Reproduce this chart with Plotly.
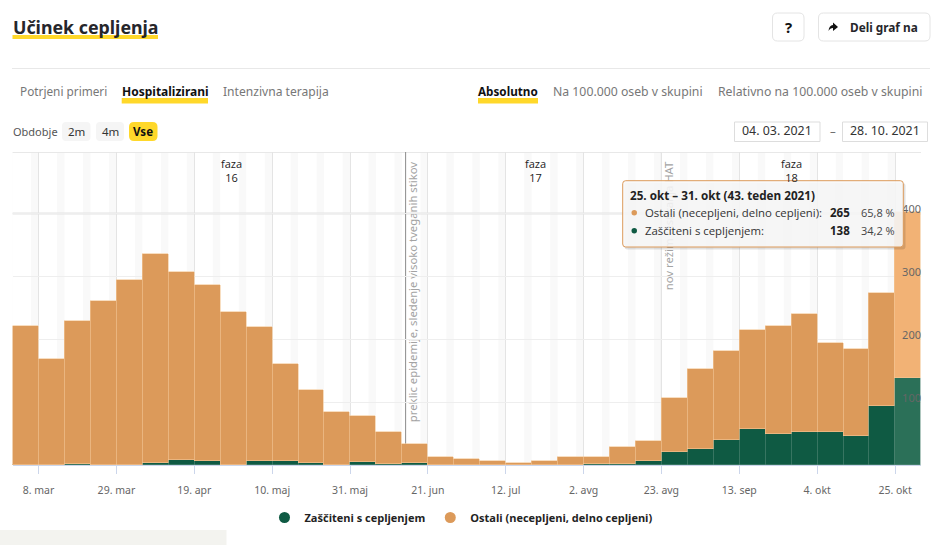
import plotly.graph_objects as go
import pandas as pd

W = 938
H = 545

# weekly data
weeks = pd.date_range("2021-03-01", periods=35, freq="7D")
total = [221, 168, 229, 261, 294, 335, 307, 286, 243, 219, 160, 119, 85, 78, 53, 33, 13, 10,
         7, 3, 6, 13, 13, 29, 38, 106, 152, 181, 215, 221, 240, 194, 185, 273, 403]
zasciteni = [0, 0, 1, 0, 0, 3, 8, 6, 0, 6, 6, 3, 0, 5, 2, 3, 0, 0,
             0, 0, 0, 0, 1, 1, 6, 21, 26, 39, 58, 50, 52, 52, 46, 94, 138]
ostali = [t - z for t, z in zip(total, zasciteni)]

tick_dates = ["2021-03-08", "2021-03-29", "2021-04-19", "2021-05-10", "2021-05-31", "2021-06-21",
              "2021-07-12", "2021-08-02", "2021-08-23", "2021-09-13", "2021-10-04", "2021-10-25"]
tick_labels = ["8. mar", "29. mar", "19. apr", "10. maj", "31. maj", "21. jun",
               "12. jul", "2. avg", "23. avg", "13. sep", "4. okt", "25. okt"]

phase_dates = ["2021-04-29", "2021-07-20", "2021-09-27"]
phase_labels = ["faza<br>16", "faza<br>17", "faza<br>18"]

ORANGE = "#dc9a5a"
ORANGE_HI = "#f2b275"
GREEN = "#0f5a43"
GREEN_HI = "#2b7058"
YELLOW = "#ffd82a"
DARK = "#26262b"
GREY = "#777777"
FONT = "Noto Sans"
TIP_FONT = "Open Sans"
WEEK_MS = 7 * 24 * 3600 * 1000


# page pixels to paper fractions
def px(x):
    return x / W


def py(y):
    return 1 - y / H


def rect(x0, y0, x1, y1, fill, line=None, layer="above"):
    return dict(type="rect", xref="paper", yref="paper", x0=px(x0), x1=px(x1), y0=py(y0), y1=py(y1),
                fillcolor=fill, line=dict(color=line or fill, width=1 if line else 0), layer=layer)


def rounded(x0, y0, x1, y1, r, fill, line=None):
    a, b, c, d = px(x0), px(x1), py(y0), py(y1)
    rx, ry = r / W, r / H
    path = (f"M{a + rx},{c} L{b - rx},{c} Q{b},{c} {b},{c - ry} L{b},{d + ry} Q{b},{d} {b - rx},{d} "
            f"L{a + rx},{d} Q{a},{d} {a},{d + ry} L{a},{c - ry} Q{a},{c} {a + rx},{c} Z")
    return dict(type="path", xref="paper", yref="paper", path=path, fillcolor=fill,
                line=dict(color=line or fill, width=1 if line else 0), layer="above")


def text(x, y, s, size=12, color=GREY, anchor="left", bold=False, family=FONT):
    return dict(xref="paper", yref="paper", x=px(x), y=py(y), text=s, showarrow=False, xanchor=anchor,
                yanchor="middle", font=dict(size=size, color=color, family=family, weight=700 if bold else 400),
                borderpad=0, borderwidth=0)


fig = go.Figure()

ost_colors = [ORANGE] * 34 + [ORANGE_HI]
zas_colors = [GREEN] * 34 + [GREEN_HI]
fig.add_trace(go.Bar(x=weeks, y=zasciteni, width=WEEK_MS, offset=0, marker_color=zas_colors,
                     marker_line=dict(color="#5f8f7f", width=0.5), showlegend=False))
fig.add_trace(go.Bar(x=weeks, y=ostali, width=WEEK_MS, offset=0, marker_color=ost_colors,
                     marker_line=dict(color="#f3c898", width=0.6), showlegend=False))
# round legend markers
fig.add_trace(go.Scatter(x=[None], y=[None], mode="markers", name="Zaščiteni s cepljenjem",
                         marker=dict(color=GREEN, size=11)))
fig.add_trace(go.Scatter(x=[None], y=[None], mode="markers", name="Ostali (necepljeni, delno cepljeni)",
                         marker=dict(color=ORANGE, size=11)))

shapes = []

# weekend stripes
for w in weeks:
    shapes.append(dict(type="rect", xref="x", yref="paper", x0=w - pd.Timedelta(days=2), x1=w,
                       y0=py(465), y1=py(152), fillcolor="#f9f9f9", line=dict(width=0), layer="below"))

# top border and the heavier 400 line
shapes.append(rect(12.6, 152, 921, 153, "#e8e8e8", layer="below"))
shapes.append(dict(type="line", xref="paper", yref="y", x0=px(12.6), x1=px(921), y0=400, y1=400,
                   line=dict(color="#e4e4e4", width=2), layer="below"))

# event lines with rotated text
shapes.append(dict(type="line", xref="x", yref="paper", x0="2021-06-15", x1="2021-06-15", y0=py(465), y1=py(152),
                   line=dict(color="#8c8c8c", width=1), layer="below"))
shapes.append(dict(type="rect", xref="x", yref="paper", x0="2021-06-15", x1="2021-06-19", y0=py(423), y1=py(161),
                   line=dict(width=0), fillcolor="rgba(0,0,0,0)", layer="below",
                   label=dict(text="preklic epidemije, sledenje visoko tveganih stikov", textangle=-90,
                              textposition="middle center", font=dict(size=11.3, color="#a3a3a3", family=FONT))))
shapes.append(dict(type="line", xref="x", yref="paper", x0="2021-08-23", x1="2021-08-23", y0=py(465), y1=py(152),
                   line=dict(color="#8c8c8c", width=1), layer="below"))
shapes.append(dict(type="rect", xref="x", yref="paper", x0="2021-08-23", x1="2021-08-27", y0=py(292), y1=py(160),
                   line=dict(width=0), fillcolor="rgba(0,0,0,0)", layer="below",
                   label=dict(text="nov režim testiranja HAT", textangle=-90,
                              textposition="middle center", font=dict(size=11.3, color="#a3a3a3", family=FONT))))

# header
shapes.append(rect(12.5, 35, 158, 39, YELLOW))
shapes.append(rect(12, 68, 930, 69, "#e8e8e8"))
shapes.append(rounded(772.5, 13, 804, 41, 5, "#ffffff", "#e4e4e4"))
shapes.append(rounded(818.5, 13, 930, 41, 5, "#ffffff", "#e4e4e4"))
# share arrow
ax, ay = 833, 27
shapes.append(dict(type="path", xref="paper", yref="paper", fillcolor="#111111", line=dict(width=0), layer="above",
                   path=(f"M{px(ax - 4.5)},{py(ay + 4)} Q{px(ax - 4)},{py(ay - 1.5)} {px(ax)},{py(ay - 2)} "
                         f"L{px(ax)},{py(ay - 4.5)} L{px(ax + 5)},{py(ay)} L{px(ax)},{py(ay + 4)} "
                         f"L{px(ax)},{py(ay + 1)} Q{px(ax - 3)},{py(ay + 1)} {px(ax - 4.5)},{py(ay + 4)} Z")))
# tab underlines
shapes.append(rect(121.7, 98, 208, 103.5, YELLOW))
shapes.append(rect(478, 98, 538, 103.5, YELLOW))
# period buttons
shapes.append(rounded(62, 122, 90.5, 141, 4, "#f5f5f5"))
shapes.append(rounded(96, 122, 124, 141, 4, "#f5f5f5"))
shapes.append(rounded(129, 122, 157.5, 141, 5, YELLOW))
# date inputs
shapes.append(rect(734.5, 122, 820, 141.5, "#ffffff", "#dddddd"))
shapes.append(rect(842.5, 122, 927.5, 141.5, "#ffffff", "#dddddd"))
# corner block bottom left
shapes.append(rect(0, 530, 226.5, 545, "#f3f3ef"))

# tooltip
shapes.append(rounded(624.5, 183, 905.5, 249.5, 3, "rgba(0,0,0,0.12)"))
shapes.append(rounded(622.7, 180.7, 903.3, 247, 3, "rgba(248,248,248,0.88)", ORANGE))
shapes.append(dict(type="circle", xref="paper", yref="paper", x0=px(631.5), x1=px(637), y0=py(210), y1=py(215.5),
                   fillcolor=ORANGE, line=dict(width=0), layer="above"))
shapes.append(dict(type="circle", xref="paper", yref="paper", x0=px(631.5), x1=px(637), y0=py(228), y1=py(233.5),
                   fillcolor=GREEN, line=dict(width=0), layer="above"))

annotations = [
    text(12.5, 27, "Učinek cepljenja", size=17.8, color=DARK, bold=True),
    text(788, 27, "?", size=15, color="#111111", anchor="center", bold=True),
    text(883.7, 27, "Deli graf na", size=11.8, color=DARK, anchor="center", bold=True),
    text(19.7, 91, "Potrjeni primeri", size=11.8),
    text(121.7, 91, "Hospitalizirani", size=12, color="#111111", bold=True),
    text(222.7, 91, "Intenzivna terapija", size=12.1),
    text(478, 91, "Absolutno", size=11.7, color="#111111", bold=True),
    text(553, 91, "Na 100.000 oseb v skupini", size=12.25),
    text(718, 91, "Relativno na 100.000 oseb v skupini", size=12.25),
    text(12.7, 131, "Obdobje", size=11, color="#555555"),
    text(76, 131, "2m", size=11.5, color="#333333", anchor="center"),
    text(110, 131, "4m", size=11.5, color="#333333", anchor="center"),
    text(143, 131, "Vse", size=11.5, color="#111111", anchor="center", bold=True),
    text(777, 130.5, "04. 03. 2021", size=12.4, color="#333333", anchor="center"),
    text(885, 130.5, "28. 10. 2021", size=12.4, color="#333333", anchor="center"),
    text(833, 130.5, "–", size=11.5, color="#666666", anchor="center"),
    # tooltip text
    text(629.7, 195, "25. okt – 31. okt (43. teden 2021)", size=11.7, color="#222222", bold=True, family=TIP_FONT),
    text(645, 212.7, "Ostali (necepljeni, delno cepljeni):", size=11.4, color="#333333", family=TIP_FONT),
    text(849.7, 212.7, "265", size=11.5, color="#222222", anchor="right", bold=True, family=TIP_FONT),
    text(895, 212.7, "65,8 %", size=11, color="#444444", anchor="right", family=TIP_FONT),
    text(645, 230.7, "Zaščiteni s cepljenjem:", size=11.4, color="#333333", family=TIP_FONT),
    text(849.7, 230.7, "138", size=11.5, color="#222222", anchor="right", bold=True, family=TIP_FONT),
    text(895, 230.7, "34,2 %", size=11, color="#444444", anchor="right", family=TIP_FONT),
]
# phase labels
for d, s in zip(phase_dates, phase_labels):
    annotations.append(dict(xref="x", yref="paper", x=d, y=py(170), text=s, showarrow=False, xanchor="center",
                            yanchor="middle", font=dict(size=11, color="#222222", family=TIP_FONT)))

fig.update_layout(
    width=W,
    height=H,
    margin=dict(l=0, r=0, t=0, b=0),
    paper_bgcolor="#ffffff",
    plot_bgcolor="#ffffff",
    barmode="stack",
    bargap=0,
    shapes=shapes,
    annotations=annotations,
    font=dict(family=FONT),
    xaxis=dict(
        domain=[px(12.6), px(921)],
        range=["2021-03-01", "2021-11-01"],
        tickmode="array",
        tickvals=tick_dates,
        ticktext=tick_labels,
        ticks="outside",
        ticklen=8,
        tickcolor="#ccd6eb",
        tickfont=dict(size=10.5, color="#666666", family=FONT),
        ticklabelstandoff=7,
        showgrid=True,
        gridcolor="#e4e4e4",
        gridwidth=1,
        showline=True,
        linecolor="#ccd6eb",
        linewidth=1,
        zeroline=False,
    ),
    yaxis=dict(
        domain=[py(465), py(152)],
        range=[0, 497.6],
        side="right",
        ticklabelposition="inside",
        tickvals=[0, 100, 200, 300, 400],
        tickfont=dict(size=11, color="#666666", family=FONT),
        ticklabelshift=-4,
        ticklabelstandoff=-3,
        gridcolor="#eeeeee",
        gridwidth=1,
        zeroline=False,
        showline=False,
    ),
    legend=dict(
        orientation="h",
        traceorder="normal",
        x=px(461),
        y=py(517.5),
        xanchor="center",
        yanchor="middle",
        font=dict(size=11, color="#222222", family=TIP_FONT, weight=700),
        bgcolor="rgba(0,0,0,0)",
    ),
)

fig.write_html("out.html", config={"displayModeBar": False}, post_script="document.body.style.margin='0';")
